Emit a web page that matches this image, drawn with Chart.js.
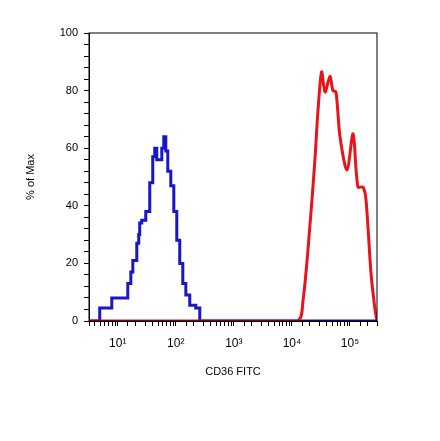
<!DOCTYPE html>
<html>
<head>
<script src="https://cdn.jsdelivr.net/npm/chart.js@4"></script>
<style>body{margin:0;background:#fff}</style>
</head>
<body>
<div style="width:440px;height:441px"><canvas id="hist"></canvas></div>
<script>
// blue (isotype) histogram, stepped
const blueX = [3.2, 4.9, 7.9, 14.9, 16.8, 18.2, 21.3, 23, 23.9, 25.9, 29.2, 30.4, 32.9, 35.6, 40.1, 43.4, 47, 53, 57.4, 62.1, 67.3, 72.8, 82, 92.4, 104, 117, 132, 149, 174, 221, 259, 292000];
const blueY = [0, 4.5, 8, 13, 17, 21, 27, 30, 34, 35, 35, 38, 38, 48, 57, 60, 56, 56, 60, 64, 59, 52, 47, 38, 28, 20, 13, 9, 5.5, 4.5, 0, 0];
// red (CD36) histogram, smooth
const redX = [3.2, 12200, 15500, 20400, 24900, 28100, 32500, 37100, 45200, 50900, 57400, 67300, 88800, 113000, 137000, 168000, 189000, 230000, 270000, 292000];
const redY = [0, 0, 7, 33, 56, 73, 86.5, 79.5, 85, 80, 79.5, 64, 52.4, 65, 46.5, 46.5, 42, 16.7, 4, 0];
const yTicks = [0, 20, 40, 60, 80, 100];
const sup = {1: '¹', 2: '²', 3: '³', 4: '⁴', 5: '⁵'};

const frame = {
  id: 'frame',
  afterDraw(chart) {
    const a = chart.chartArea, c = chart.ctx;
    c.save();
    c.strokeStyle = '#000';
    c.lineWidth = 1;
    c.strokeRect(a.left, a.top, a.right - a.left, a.bottom - a.top);
    c.restore();
  }
};

new Chart(document.getElementById('hist'), {
  type: 'scatter',
  data: {
    datasets: [
      {
        data: redX.map((x, i) => ({x: x, y: redY[i]})),
        showLine: true, borderColor: '#e8141c', borderWidth: 3,
        pointRadius: 0, tension: 0.3, fill: false
      },
      {
        data: blueX.map((x, i) => ({x: x, y: blueY[i]})),
        showLine: true, borderColor: '#1717c8', borderWidth: 3,
        pointRadius: 0, stepped: true, fill: false
      }
    ]
  },
  options: {
    responsive: true,
    maintainAspectRatio: false,
    animation: false,
    layout: {padding: {left: 20, top: 33, right: 63, bottom: 58}},
    plugins: {legend: {display: false}, tooltip: {enabled: false}},
    scales: {
      x: {
        type: 'logarithmic', min: 3.2, max: 292000,
        afterFit(s) { s.height = 62; },
        grid: {drawOnChartArea: false, tickLength: 5, color: '#000'},
        border: {color: '#000'},
        ticks: {
          autoSkip: false, maxRotation: 0, color: '#000', padding: 10,
          font: {family: 'Liberation Sans', size: 12},
          callback(v) {
            const l = Math.log10(v);
            return Math.abs(l - Math.round(l)) < 1e-9 && sup[Math.round(l)] ? '10' + sup[Math.round(l)] : '';
          }
        },
        title: {display: true, text: 'CD36 FITC', color: '#000', font: {family: 'Liberation Sans', size: 11}, padding: {top: 4}}
      },
      y: {
        min: 0, max: 100,
        afterFit(s) { s.width = 69; },
        grid: {drawOnChartArea: false, tickLength: 5, color: '#000'},
        border: {color: '#000'},
        ticks: {
          stepSize: 4, autoSkip: false, color: '#000', padding: 6,
          font: {family: 'Liberation Sans', size: 11},
          callback(v) { return yTicks.includes(v) ? v : ''; }
        },
        title: {display: true, text: '% of Max', color: '#000', font: {family: 'Liberation Sans', size: 11}}
      }
    }
  },
  plugins: [frame]
});
</script>
</body>
</html>
